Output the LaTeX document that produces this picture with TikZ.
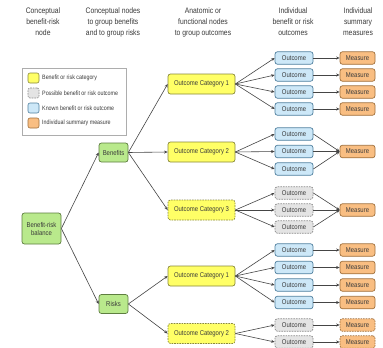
\documentclass[tikz,border=0pt]{standalone}
\usepackage{fontspec}
\setmainfont{Liberation Sans}[FakeStretch=0.85]
\usetikzlibrary{arrows.meta}
\definecolor{ycol}{HTML}{FFFF66}
\definecolor{ybord}{HTML}{8A8A3A}
\definecolor{gcol}{HTML}{B9E98C}
\definecolor{gbord}{HTML}{5E7E40}
\definecolor{bcol}{HTML}{CDE8F8}
\definecolor{bbord}{HTML}{50809F}
\definecolor{ocol}{HTML}{F9BE82}
\definecolor{obord}{HTML}{A0703C}
\definecolor{grcol}{HTML}{E4E4E4}
\definecolor{grbord}{HTML}{8A8A8A}
\definecolor{linecol}{HTML}{454545}
\definecolor{hdrcol}{HTML}{3A3A3A}
\tikzset{
  box/.style={draw, rounded corners=2.5pt, line width=0.7pt, inner sep=0pt,
    font=\fontsize{7}{8}\selectfont, align=center, text=hdrcol},
  dsh/.style={dash pattern=on 1.6pt off 1pt},
  cat/.style={box, fill=ycol, draw=ybord, minimum width=67pt, minimum height=20pt},
  catd/.style={cat, dsh},
  conc/.style={box, fill=gcol, draw=gbord},
  outk/.style={box, fill=bcol, draw=bbord, minimum width=38pt, minimum height=12.5pt},
  outp/.style={box, fill=grcol, draw=grbord, dsh, minimum width=38pt, minimum height=12.5pt},
  meas/.style={box, fill=ocol, draw=obord, minimum width=35pt, minimum height=12.5pt},
  measd/.style={meas, dsh},
  arr/.style={draw=linecol, line width=0.6pt, -{Stealth[length=3.5pt,width=3pt]}},
  hdr/.style={font=\fontsize{8}{11}\selectfont, align=center, text=hdrcol},
  legtxt/.style={anchor=west, inner sep=0pt, font=\fontsize{6.3}{7}\selectfont, text=hdrcol},
  swatch/.style={draw, rounded corners=2pt, line width=0.6pt, inner sep=0pt, minimum width=11pt, minimum height=10pt}
}
\begin{document}
\begin{tikzpicture}[x=1pt,y=-1pt]
\useasboundingbox[fill=white] (0,0) rectangle (383,348);
% headers
\node[hdr] (h1) at (43,22) {Conceptual\\benefit-risk\\node};
\node[hdr] (h2) at (113,22) {Conceptual nodes\\to group benefits\\and to group risks};
\node[hdr] (h3) at (203,22) {Anatomic or\\functional nodes\\to group outcomes};
\node[hdr] (h4) at (293,22) {Individual\\benefit or risk\\outcomes};
\node[hdr] (h5) at (358,22) {Individual\\summary\\measures};
% legend
\node[draw=grbord!70, line width=0.6pt, fill=white, minimum width=104pt, minimum height=67pt, inner sep=0pt] (leg) at (74,101.5) {};
\node[swatch, fill=ycol, draw=ybord] (s1) at (33.5,78) {};
\node[swatch, fill=grcol, draw=grbord, dsh] (s2) at (33.5,93) {};
\node[swatch, fill=bcol, draw=bbord] (s3) at (33.5,108) {};
\node[swatch, fill=ocol, draw=obord] (s4) at (33.5,123) {};
\node[legtxt] (l1) at (42,78) {Benefit or risk category};
\node[legtxt] (l2) at (42,93) {Possible benefit or risk outcome};
\node[legtxt] (l3) at (42,108) {Known benefit or risk outcome};
\node[legtxt] (l4) at (42,123) {Individual summary measure};
% conceptual nodes
\node[conc, minimum width=39pt, minimum height=31pt] (br) at (41.5,228.5) {Benefit-risk\\balance};
\node[conc, minimum width=29pt, minimum height=19pt] (ben) at (113.5,152.5) {Benefits};
\node[conc, minimum width=29pt, minimum height=19pt] (risk) at (113.5,304) {Risks};
% categories
\node[cat] (c1) at (201.5,84) {Outcome Category 1};
\node[cat] (c2) at (201.5,152) {Outcome Category 2};
\node[catd] (c3) at (201.5,210) {Outcome Category 3};
\node[cat] (c4) at (201.5,276) {Outcome Category 1};
\node[catd] (c5) at (201.5,333.5) {Outcome Category 2};
% outcomes and measures
\foreach \n/\y in {a1/58,a2/75,a3/92,a4/109,e1/250,e2/267.5,e3/285,e4/302.5}{
  \node[outk] (o\n) at (294,\y) {Outcome};
  \node[meas] (m\n) at (357.5,\y) {Measure};
  \draw[arr] (o\n) -- (m\n);
}
\foreach \n/\y in {b1/134,b2/151.5,b3/169}{
  \node[outk] (o\n) at (294,\y) {Outcome};
}
\foreach \n/\y in {d1/193,d2/210,d3/227}{
  \node[outp] (o\n) at (294,\y) {Outcome};
}
\foreach \n/\y in {f1/325,f2/342}{
  \node[outp] (o\n) at (294,\y) {Outcome};
  \node[measd] (m\n) at (357.5,\y) {Measure};
  \draw[arr] (o\n) -- (m\n);
}
\node[meas] (mb) at (357.5,151.5) {Measure};
\node[meas] (md) at (357.5,210) {Measure};
% connectors
\draw[arr] (br.east) -- (ben.west);
\draw[arr] (br.east) -- (risk.west);
\foreach \c in {c1,c2,c3}{\draw[arr] (ben.east) -- (\c.west);}
\foreach \c in {c4,c5}{\draw[arr] (risk.east) -- (\c.west);}
\foreach \o in {a1,a2,a3,a4}{\draw[arr] (c1.east) -- (o\o.west);}
\foreach \o in {b1,b2,b3}{\draw[arr] (c2.east) -- (o\o.west); \draw[arr] (o\o.east) -- (mb.west);}
\foreach \o in {d1,d2,d3}{\draw[arr] (c3.east) -- (o\o.west); \draw[arr] (o\o.east) -- (md.west);}
\foreach \o in {e1,e2,e3,e4}{\draw[arr] (c4.east) -- (o\o.west);}
\foreach \o in {f1,f2}{\draw[arr] (c5.east) -- (o\o.west);}
\end{tikzpicture}
\end{document}
